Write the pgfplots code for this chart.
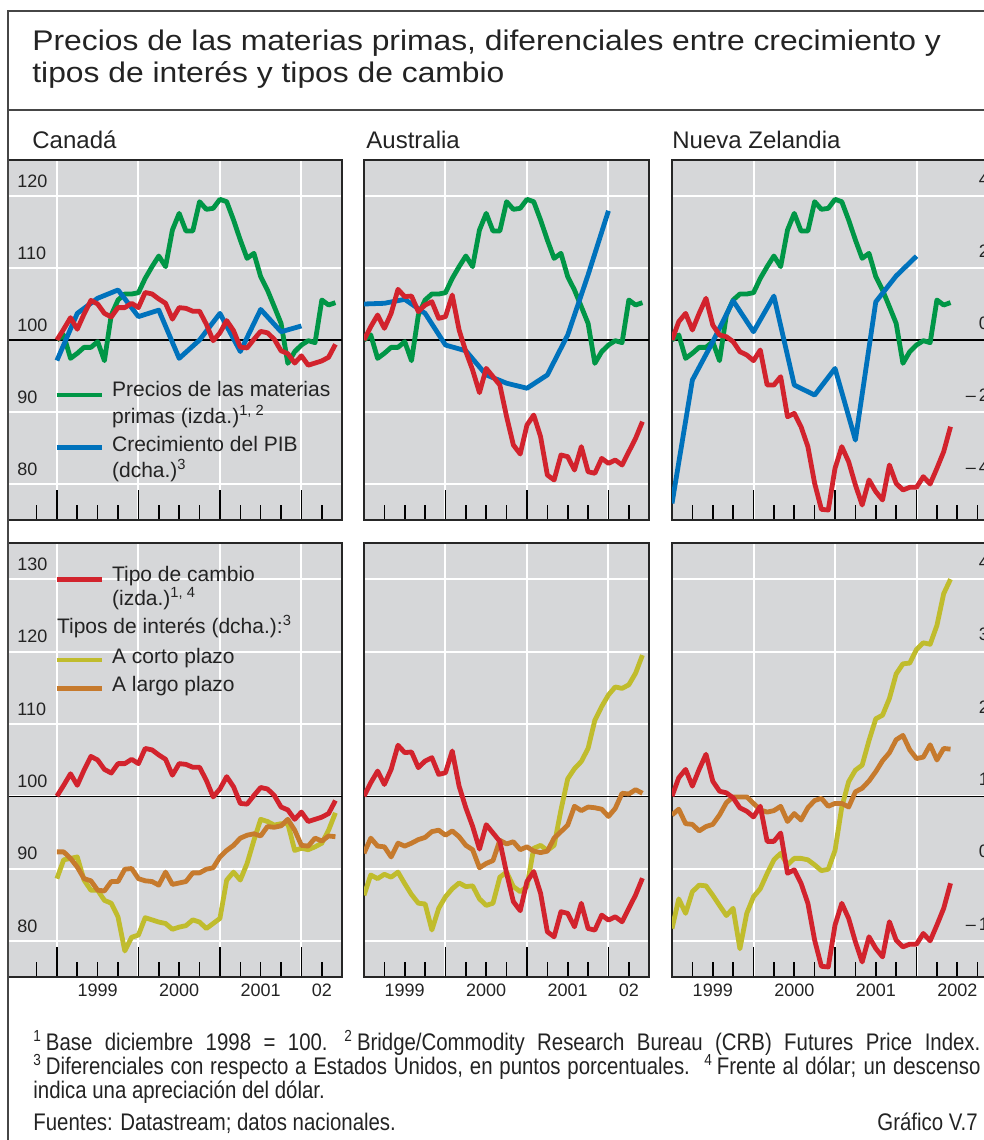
\documentclass[border=0pt]{standalone}
\usepackage{fontspec}
\setmainfont{Liberation Sans}
\newfontfamily\condfont[FakeStretch=0.85]{Liberation Sans}
\newfontfamily\titlefont[FakeStretch=1.12]{Liberation Sans}
\usepackage{pgfplots}
\usepackage{pgfplotstable}
\pgfplotsset{compat=1.18}

\definecolor{panelgray}{RGB}{214,215,217}
\definecolor{cgreen}{RGB}{0,150,70}
\definecolor{cblue}{RGB}{0,114,188}
\definecolor{cred}{RGB}{210,35,45}
\definecolor{cyellow}{RGB}{192,188,45}
\definecolor{corange}{RGB}{198,122,45}
\definecolor{framecol}{RGB}{70,70,70}
\definecolor{textcol}{RGB}{35,35,35}

\newcommand\setfs[2]{\fontsize{#1}{#2}\selectfont}

\pgfplotstableread{
date crb
1999.000 100.0
1999.083 100.7
1999.167 97.45
1999.250 98.15
1999.333 98.98
1999.417 98.98
1999.500 99.77
1999.583 97.13
1999.667 103.47
1999.750 105.56
1999.833 106.39
1999.917 106.39
2000.000 106.57
2000.083 108.56
2000.167 110.19
2000.250 111.67
2000.333 110.19
2000.417 115.28
2000.500 117.59
2000.583 115.14
2000.667 115.14
2000.750 119.21
2000.833 118.15
2000.917 118.29
2001.000 119.54
2001.083 119.21
2001.167 116.67
2001.250 113.89
2001.333 111.34
2001.417 112.04
2001.500 108.80
2001.583 106.94
2001.667 104.63
2001.750 102.31
2001.833 96.76
2001.917 98.38
2002.000 99.31
2002.083 99.91
2002.167 99.63
2002.250 105.56
2002.333 104.86
2002.417 105.19
}\commod

\pgfplotstableread{
date can aus nz
1999.00 -0.57 1.00 -4.54
1999.25 0.74 1.02 -1.11
1999.50 1.16 1.13 -0.05
1999.75 1.39 0.74 1.09
2000.00 0.65 -0.14 0.23
2000.25 0.83 -0.30 1.22
2000.50 -0.51 -0.97 -1.25
2000.75 0.00 -1.20 -1.53
2001.00 0.74 -1.34 -0.79
2001.25 -0.32 -0.97 -2.78
2001.50 0.85 0.14 1.06
2001.75 0.23 1.81 1.78
2002.00 0.39 3.59 2.33
}\gdp

\pgfplotstableread{
date fx short long
1999.000 100.0 -0.14 0.23
1999.083 101.5 0.12 0.23
1999.167 103.1 0.14 0.14
1999.250 101.5 0.16 0.02
1999.333 103.6 -0.16 -0.14
1999.417 105.5 -0.30 -0.17
1999.500 105.0 -0.30 -0.30
1999.583 103.7 -0.44 -0.31
1999.667 103.2 -0.48 -0.18
1999.750 104.5 -0.67 -0.18
1999.833 104.5 -1.14 -0.01
1999.917 105.1 -0.95 0.00
2000.000 104.5 -0.92 -0.14
2000.083 106.6 -0.68 -0.17
2000.167 106.4 -0.71 -0.18
2000.250 105.7 -0.74 -0.23
2000.333 105.1 -0.76 -0.05
2000.417 102.9 -0.84 -0.22
2000.500 104.5 -0.81 -0.20
2000.583 104.4 -0.79 -0.18
2000.667 104.0 -0.71 -0.06
2000.750 104.0 -0.74 -0.06
2000.833 102.2 -0.83 -0.01
2000.917 99.9 -0.76 0.01
2001.000 101.0 -0.69 0.16
2001.083 102.7 -0.16 0.25
2001.167 101.3 -0.05 0.32
2001.250 99.0 -0.16 0.42
2001.333 98.9 0.07 0.46
2001.417 100.1 0.39 0.48
2001.500 101.2 0.68 0.45
2001.583 101.0 0.65 0.58
2001.667 100.1 0.60 0.57
2001.750 98.5 0.62 0.59
2001.833 98.1 0.62 0.68
2001.917 96.8 0.25 0.53
2002.000 97.8 0.28 0.32
2002.083 96.5 0.26 0.31
2002.167 96.8 0.30 0.42
2002.250 97.1 0.35 0.38
2002.333 97.6 0.53 0.45
2002.417 99.4 0.77 0.44
}\canada

\pgfplotstableread{
date fx short long
1999.000 100.0 -0.37 0.21
1999.083 101.85 -0.09 0.42
1999.167 103.47 -0.14 0.31
1999.250 101.62 -0.08 0.30
1999.333 103.70 -0.12 0.16
1999.417 107.04 -0.05 0.35
1999.500 106.02 -0.21 0.31
1999.583 106.11 -0.36 0.35
1999.667 103.94 -0.48 0.40
1999.750 104.86 -0.49 0.43
1999.833 105.32 -0.85 0.51
1999.917 103.01 -0.55 0.53
2000.000 103.24 -0.39 0.46
2000.083 106.25 -0.28 0.52
2000.167 101.39 -0.20 0.44
2000.250 98.38 -0.25 0.32
2000.333 95.83 -0.24 0.26
2000.417 92.69 -0.42 0.01
2000.500 96.06 -0.51 0.07
2000.583 94.91 -0.48 0.11
2000.667 93.75 -0.12 0.39
2000.750 89.35 -0.05 0.34
2000.833 85.42 -0.25 0.37
2000.917 84.17 -0.32 0.26
2001.000 88.19 -0.25 0.30
2001.083 89.58 0.28 0.24
2001.167 86.57 0.32 0.22
2001.250 81.25 0.25 0.24
2001.333 80.56 0.32 0.42
2001.417 84.03 0.81 0.51
2001.500 83.80 1.24 0.60
2001.583 81.94 1.38 0.86
2001.667 85.19 1.48 0.80
2001.750 81.71 1.66 0.85
2001.833 81.48 2.05 0.84
2001.917 83.56 2.24 0.82
2002.000 82.87 2.40 0.72
2002.083 83.33 2.51 0.83
2002.167 82.64 2.49 1.04
2002.250 84.49 2.54 1.03
2002.333 86.34 2.70 1.09
2002.417 88.66 2.95 1.04
}\australia

\pgfplotstableread{
date fx short long
1999.000 100.0 -0.83 0.74
1999.083 102.55 -0.42 0.82
1999.167 103.70 -0.62 0.62
1999.250 101.39 -0.32 0.61
1999.333 103.70 -0.23 0.52
1999.417 105.79 -0.24 0.58
1999.500 102.08 -0.37 0.61
1999.583 100.69 -0.51 0.74
1999.667 100.46 -0.65 0.91
1999.750 99.77 -0.55 0.99
1999.833 98.38 -1.11 0.99
1999.917 97.92 -0.62 0.99
2000.000 97.13 -0.39 0.90
2000.083 98.61 -0.28 0.81
2000.167 93.75 -0.07 0.78
2000.250 93.75 0.12 0.80
2000.333 94.91 0.21 0.86
2000.417 89.35 0.05 0.65
2000.500 89.81 0.14 0.76
2000.583 87.96 0.14 0.67
2000.667 85.19 0.12 0.84
2000.750 80.09 0.05 0.94
2000.833 76.48 -0.03 0.97
2000.917 76.39 -0.01 0.86
2001.000 82.18 0.25 0.90
2001.083 85.19 0.85 0.90
2001.167 83.10 1.20 0.85
2001.250 79.86 1.36 1.06
2001.333 77.08 1.43 1.11
2001.417 80.56 1.77 1.21
2001.500 78.94 2.07 1.34
2001.583 77.78 2.12 1.49
2001.667 82.64 2.35 1.60
2001.750 80.09 2.69 1.78
2001.833 79.17 2.83 1.84
2001.917 79.54 2.84 1.64
2002.000 79.54 3.03 1.52
2002.083 81.02 3.12 1.54
2002.167 80.00 3.10 1.71
2002.250 82.18 3.36 1.50
2002.333 84.49 3.80 1.66
2002.417 87.96 4.00 1.65
}\nz

\pgfplotsset{
  panel/.style={
    scale only axis,
    axis background/.style={fill=panelgray},
    axis line style={draw=black!85, line width=0.9pt},
    xtick={1999,2000,2001,2002},
    minor xtick={1998.75,1999.25,1999.5,1999.75,2000.25,2000.5,2000.75,2001.25,2001.5,2001.75,2002.25,2002.5,2002.75},
    xticklabels={},
    xmajorgrids, ymajorgrids,
    major grid style={white, line width=1pt},
    tick align=inside,
    xtick pos=left,
    ytick pos=left,
    major tick length=15pt,
    minor tick length=7.5pt,
    tick style={black, line width=0.8pt},
    ytick style={draw=none},
    yticklabels={},
    tick label style={font=\setfs{9}{10}, text=textcol},
  },
  toprow/.style={panel, height=180pt, ymin=75, ymax=125, ytick={80,90,...,120}},
  botrow/.style={panel, height=217pt, ymin=75, ymax=135, ytick={80,90,...,130},
    extra x ticks={1999.5,2000.5,2001.5,2002.25},
    extra x tick labels={1999,2000,2001,02},
    extra x tick style={major tick length=0pt, grid=none},
  },
  leftlab/.style={yticklabel style={anchor=south west, inner sep=0pt, xshift=4.5pt, yshift=4pt}},
  rightlab/.style={ytick pos=right, yticklabel pos=right,
    yticklabel style={anchor=south east, inner sep=0pt, xshift=-8.5pt, yshift=5pt}},
  ser/.style={line width=2.4pt, line join=round, mark=none},
}

\begin{document}
\begin{tikzpicture}
\useasboundingbox (0pt,0pt) rectangle (492pt,-570pt);
\clip (0pt,0pt) rectangle (492pt,-570pt);

\begin{axis}[toprow, at={(4pt,-260pt)}, anchor=south west, width=167.1pt,
  xmin=1998.4, xmax=2002.5, leftlab, yticklabels={80,90,100,110,120}]
  \draw[black, line width=0.6pt] (axis cs:1998.4,100) -- (axis cs:2002.5,100);
  \addplot[ser, cgreen] table[x=date, y=crb] {\commod};
  \addplot[ser, cblue] table[x=date, y expr=100+5*\thisrow{can}] {\gdp};
  \addplot[ser, cred] table[x=date, y=fx] {\canada};
\end{axis}

\begin{axis}[toprow, at={(182pt,-260pt)}, anchor=south west, width=142.6pt,
  xmin=1999, xmax=2002.5]
  \draw[black, line width=0.6pt] (axis cs:1999,100) -- (axis cs:2002.5,100);
  \addplot[ser, cgreen] table[x=date, y=crb] {\commod};
  \addplot[ser, cblue] table[x=date, y expr=100+5*\thisrow{aus}] {\gdp};
  \addplot[ser, cred] table[x=date, y=fx] {\australia};
\end{axis}

\begin{axis}[toprow, at={(336pt,-260pt)}, anchor=south west, width=167.1pt,
  xmin=1999, xmax=2003.1, rightlab,
  yticklabels={\textendash\,4,\textendash\,2,0,2,4}]
  \draw[black, line width=0.6pt] (axis cs:1999,100) -- (axis cs:2003.1,100);
  \addplot[ser, cgreen] table[x=date, y=crb] {\commod};
  \addplot[ser, cblue] table[x=date, y expr=100+5*\thisrow{nz}] {\gdp};
  \addplot[ser, cred] table[x=date, y=fx] {\nz};
\end{axis}

\begin{axis}[botrow, at={(4pt,-488.5pt)}, anchor=south west, width=167.1pt,
  xmin=1998.4, xmax=2002.5, leftlab, yticklabels={80,90,100,110,120,130}]
  \draw[black, line width=0.6pt] (axis cs:1998.4,100) -- (axis cs:2002.5,100);
  \addplot[ser, cyellow] table[x=date, y expr=90+10*\thisrow{short}] {\canada};
  \addplot[ser, corange] table[x=date, y expr=90+10*\thisrow{long}] {\canada};
  \addplot[ser, cred] table[x=date, y=fx] {\canada};
\end{axis}

\begin{axis}[botrow, at={(182pt,-488.5pt)}, anchor=south west, width=142.6pt,
  xmin=1999, xmax=2002.5]
  \draw[black, line width=0.6pt] (axis cs:1999,100) -- (axis cs:2002.5,100);
  \addplot[ser, cyellow] table[x=date, y expr=90+10*\thisrow{short}] {\australia};
  \addplot[ser, corange] table[x=date, y expr=90+10*\thisrow{long}] {\australia};
  \addplot[ser, cred] table[x=date, y=fx] {\australia};
\end{axis}

\begin{axis}[botrow, at={(336pt,-488.5pt)}, anchor=south west, width=167.1pt,
  xmin=1999, xmax=2003.1, rightlab,
  extra x ticks={1999.5,2000.5,2001.5,2002.5},
  extra x tick labels={1999,2000,2001,2002},
  yticklabels={\textendash\,1,0,1,2,3,4}]
  \draw[black, line width=0.6pt] (axis cs:1999,100) -- (axis cs:2003.1,100);
  \addplot[ser, cyellow] table[x=date, y expr=90+10*\thisrow{short}] {\nz};
  \addplot[ser, corange] table[x=date, y expr=90+10*\thisrow{long}] {\nz};
  \addplot[ser, cred] table[x=date, y=fx] {\nz};
\end{axis}

\begin{scope}[every node/.style={anchor=base west, inner sep=0pt, text=textcol, font=\setfs{10.5}{12}}]
  \draw[cgreen, line width=2.4pt] (28.35pt,-197.5pt) -- (50.85pt,-197.5pt);
  \node at (55.85pt,-198.4pt) {Precios de las materias};
  \node at (55.85pt,-211.8pt) {primas (izda.)\textsuperscript{1, 2}};
  \draw[cblue, line width=2.4pt] (28.35pt,-223.9pt) -- (50.85pt,-223.9pt);
  \node at (55.85pt,-225.9pt) {Crecimiento del PIB};
  \node at (55.85pt,-238.6pt) {(dcha.)\textsuperscript{3}};
  \draw[cred, line width=2.4pt] (28.35pt,-289.6pt) -- (50.85pt,-289.6pt);
  \node at (55.85pt,-290.9pt) {Tipo de cambio};
  \node at (55.85pt,-302.5pt) {(izda.)\textsuperscript{1, 4}};
  \node at (28.35pt,-316.5pt) {Tipos de interés (dcha.):\textsuperscript{3}};
  \draw[cyellow, line width=2.4pt] (28.35pt,-330pt) -- (50.85pt,-330pt);
  \node at (55.85pt,-331.7pt) {A corto plazo};
  \draw[corange, line width=2.4pt] (28.35pt,-344.2pt) -- (50.85pt,-344.2pt);
  \node at (55.85pt,-345.9pt) {A largo plazo};
\end{scope}

\draw[framecol, line width=0.8pt] (4pt,-570pt) -- (4pt,-5.5pt) -- (500pt,-5.5pt);
\draw[framecol, line width=0.8pt] (4pt,-55pt) -- (500pt,-55pt);

\begin{scope}[every node/.style={anchor=base west, inner sep=0pt, text=textcol}]
  \node[font=\titlefont\setfs{14.2}{17}] at (16pt,-25pt) {Precios de las materias primas, diferenciales entre crecimiento y};
  \node[font=\titlefont\setfs{14.2}{17}] at (16pt,-41.4pt) {tipos de interés y tipos de cambio};
  \node[font=\setfs{12}{14}] at (16pt,-74.2pt) {Canadá};
  \node[font=\setfs{12}{14}] at (183pt,-74.2pt) {Australia};
  \node[font=\setfs{12}{14}] at (336pt,-74.2pt) {Nueva Zelandia};
  \node[font=\condfont\setfs{12}{14}] at (16.5pt,-525pt) {\hbox to 473.5pt{\textsuperscript{1}\,Base diciembre 1998 = 100.\hspace{0.7em}\textsuperscript{2}\,Bridge/Commodity Research Bureau (CRB) Futures Price Index.}};
  \node[font=\condfont\setfs{12}{14}] at (16.5pt,-537pt) {\hbox to 473.5pt{\textsuperscript{3}\,Diferenciales con respecto a Estados Unidos, en puntos porcentuales.\hspace{0.6em}\textsuperscript{4}\,Frente al dólar; un descenso}};
  \node[font=\condfont\setfs{12}{14}] at (16.5pt,-549pt) {indica una apreciación del dólar.};
  \node[font=\condfont\setfs{12}{14}] at (16.5pt,-565pt) {Fuentes: Datastream; datos nacionales.};
  \node[font=\condfont\setfs{12}{14}, anchor=base east] at (489pt,-565pt) {Gráfico V.7};
\end{scope}
\end{tikzpicture}
\end{document}
